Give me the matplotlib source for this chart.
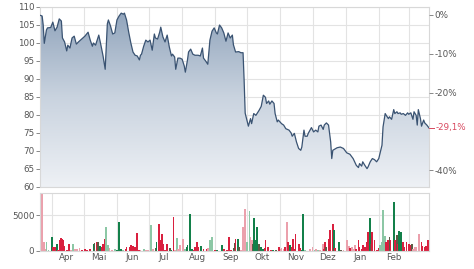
import matplotlib
matplotlib.use("Agg")
import matplotlib.pyplot as plt
import matplotlib.dates as mdates
import numpy as np
import pandas as pd
from matplotlib.colors import LinearSegmentedColormap

# ---------------- data ----------------
price_dates = [
    "2022-03-21", "2022-03-23", "2022-03-24", "2022-03-25", "2022-03-27", "2022-03-28", "2022-03-31",
    "2022-04-02", "2022-04-04", "2022-04-06", "2022-04-08", "2022-04-10", "2022-04-11", "2022-04-13",
    "2022-04-15", "2022-04-16", "2022-04-18", "2022-04-20", "2022-04-22", "2022-04-24", "2022-04-26",
    "2022-04-29", "2022-05-02", "2022-05-05", "2022-05-07", "2022-05-09", "2022-05-10", "2022-05-12",
    "2022-05-15", "2022-05-17", "2022-05-19", "2022-05-21", "2022-05-23", "2022-05-24", "2022-05-26",
    "2022-05-28", "2022-05-30", "2022-06-01", "2022-06-03", "2022-06-05", "2022-06-07", "2022-06-08",
    "2022-06-10", "2022-06-12", "2022-06-14", "2022-06-16", "2022-06-18", "2022-06-20", "2022-06-22",
    "2022-06-23", "2022-06-24", "2022-06-26", "2022-06-28", "2022-06-30", "2022-07-02", "2022-07-04",
    "2022-07-06", "2022-07-07", "2022-07-09", "2022-07-11", "2022-07-12", "2022-07-14", "2022-07-16",
    "2022-07-18", "2022-07-20", "2022-07-22", "2022-07-23", "2022-07-25", "2022-07-26", "2022-07-28",
    "2022-07-30", "2022-08-01", "2022-08-03", "2022-08-04", "2022-08-06", "2022-08-07", "2022-08-09",
    "2022-08-11", "2022-08-13", "2022-08-16", "2022-08-18", "2022-08-20", "2022-08-21", "2022-08-23",
    "2022-08-25", "2022-08-27", "2022-08-29", "2022-08-31", "2022-09-02", "2022-09-03", "2022-09-05",
    "2022-09-07", "2022-09-09", "2022-09-11", "2022-09-13", "2022-09-15", "2022-09-17", "2022-09-18",
    "2022-09-20", "2022-09-23", "2022-09-25", "2022-09-27", "2022-09-28", "2022-09-29", "2022-10-01",
    "2022-10-02", "2022-10-04", "2022-10-05", "2022-10-07", "2022-10-09", "2022-10-12", "2022-10-14",
    "2022-10-16", "2022-10-18", "2022-10-19", "2022-10-21", "2022-10-22", "2022-10-24", "2022-10-26",
    "2022-10-27", "2022-10-29", "2022-10-30", "2022-11-02", "2022-11-04", "2022-11-06", "2022-11-09",
    "2022-11-11", "2022-11-12", "2022-11-14", "2022-11-16", "2022-11-18", "2022-11-20", "2022-11-21",
    "2022-11-23", "2022-11-24", "2022-11-26", "2022-11-27", "2022-11-30", "2022-12-02", "2022-12-04",
    "2022-12-06", "2022-12-07", "2022-12-09", "2022-12-11", "2022-12-12", "2022-12-14", "2022-12-16",
    "2022-12-18", "2022-12-19", "2022-12-20", "2022-12-24", "2022-12-27", "2022-12-30", "2023-01-02",
    "2023-01-05", "2023-01-08", "2023-01-11", "2023-01-13", "2023-01-14", "2023-01-16", "2023-01-17",
    "2023-01-19", "2023-01-21", "2023-01-22", "2023-01-24", "2023-01-26", "2023-01-28", "2023-01-30",
    "2023-02-01", "2023-02-04", "2023-02-05", "2023-02-07", "2023-02-08", "2023-02-10", "2023-02-11",
    "2023-02-13", "2023-02-15", "2023-02-16", "2023-02-18", "2023-02-19", "2023-02-21", "2023-02-22",
    "2023-02-24", "2023-02-26", "2023-02-28", "2023-03-01", "2023-03-03", "2023-03-05", "2023-03-06",
    "2023-03-08", "2023-03-09", "2023-03-10", "2023-03-12", "2023-03-13", "2023-03-15", "2023-03-16",
    "2023-03-18", "2023-03-20",
]
price_values = [
    107.7, 107.5, 105.0, 99.9, 103.6, 104.2, 104.3,
    105.8, 103.4, 104.4, 106.7, 106.1, 101.4, 100.3,
    97.8, 99.4, 98.6, 101.4, 101.9, 99.7, 100.3,
    101.1, 101.9, 103.0, 100.8, 99.1, 100.0, 99.4,
    102.2, 99.4, 96.4, 92.7, 105.3, 106.4, 104.7,
    102.5, 102.8, 106.4, 107.5, 108.3, 108.0, 108.3,
    106.4, 103.0, 100.0, 97.5, 96.6, 96.4, 95.3,
    96.6, 96.9, 99.1, 100.8, 100.3, 100.8, 98.0,
    102.5, 101.4, 101.1, 103.0, 104.4, 101.7, 100.3,
    102.2, 98.9, 96.4, 96.9, 96.1, 92.7, 95.8,
    95.8, 95.5, 93.6, 91.9, 95.3, 97.5, 98.3,
    96.9, 96.6, 96.6, 96.4, 98.6, 95.8, 95.0,
    94.1, 100.8, 103.3, 104.2, 102.8, 102.5, 105.0,
    104.2, 102.8, 100.5, 102.8, 101.4, 102.2, 99.5,
    97.5, 97.6, 97.3, 97.3, 89.7, 80.5, 78.1,
    76.9, 79.0, 77.6, 80.4, 79.9, 81.3, 82.4,
    85.5, 84.9, 83.2, 83.9, 83.0, 83.9, 83.2,
    80.4, 78.1, 78.6, 77.6, 77.2, 76.2, 75.8,
    75.0, 74.1, 74.9, 72.5, 70.7, 70.2, 71.1,
    75.8, 74.1, 74.1, 74.9, 76.5, 75.3, 75.8,
    75.3, 76.9, 77.2, 76.0, 77.2, 77.8, 77.2,
    72.5, 67.9, 70.2, 70.9, 71.1, 70.7, 69.5,
    69.1, 67.9, 66.0, 65.4, 66.5, 65.8, 67.0,
    66.0, 65.1, 65.6, 67.0, 67.9, 67.6, 67.0,
    67.9, 71.6, 76.7, 80.4, 79.9, 79.0, 79.5,
    78.8, 81.5, 80.4, 80.9, 80.4, 80.6, 80.2,
    80.4, 79.9, 80.6, 80.2, 80.6, 78.8, 80.9,
    79.9, 77.2, 81.5, 79.0, 76.9, 78.6, 77.8,
    77.2, 76.4,
]

vol_dates = [
    "2022-03-22", "2022-03-23", "2022-03-25", "2022-03-26", "2022-03-27", "2022-03-29", "2022-04-01",
    "2022-04-02", "2022-04-04", "2022-04-06", "2022-04-07", "2022-04-09", "2022-04-10", "2022-04-11",
    "2022-04-12", "2022-04-13", "2022-04-15", "2022-04-17", "2022-04-19", "2022-04-21", "2022-04-23",
    "2022-04-25", "2022-04-27", "2022-04-29", "2022-05-02", "2022-05-04", "2022-05-07", "2022-05-10",
    "2022-05-11", "2022-05-13", "2022-05-14", "2022-05-16", "2022-05-18", "2022-05-19", "2022-05-20",
    "2022-05-21", "2022-05-22", "2022-05-24", "2022-05-25", "2022-05-27", "2022-05-30", "2022-06-01",
    "2022-06-03", "2022-06-05", "2022-06-07", "2022-06-09", "2022-06-10", "2022-06-13", "2022-06-14",
    "2022-06-16", "2022-06-18", "2022-06-20", "2022-06-22", "2022-06-23", "2022-06-26", "2022-06-28",
    "2022-06-30", "2022-07-03", "2022-07-05", "2022-07-07", "2022-07-08", "2022-07-10", "2022-07-11",
    "2022-07-13", "2022-07-14", "2022-07-16", "2022-07-18", "2022-07-21", "2022-07-22", "2022-07-24",
    "2022-07-25", "2022-07-27", "2022-07-28", "2022-07-30", "2022-08-02", "2022-08-04", "2022-08-05",
    "2022-08-06", "2022-08-08", "2022-08-10", "2022-08-12", "2022-08-13", "2022-08-15", "2022-08-16",
    "2022-08-19", "2022-08-21", "2022-08-24", "2022-08-25", "2022-08-27", "2022-08-29", "2022-09-01",
    "2022-09-03", "2022-09-07", "2022-09-09", "2022-09-12", "2022-09-14", "2022-09-16", "2022-09-18",
    "2022-09-19", "2022-09-20", "2022-09-22", "2022-09-23", "2022-09-25", "2022-09-27", "2022-09-29",
    "2022-10-01", "2022-10-03", "2022-10-04", "2022-10-05", "2022-10-06", "2022-10-07", "2022-10-09",
    "2022-10-10", "2022-10-12", "2022-10-14", "2022-10-16", "2022-10-17", "2022-10-18", "2022-10-20",
    "2022-10-23", "2022-10-25", "2022-10-28", "2022-10-31", "2022-11-01", "2022-11-02", "2022-11-04",
    "2022-11-05", "2022-11-07", "2022-11-08", "2022-11-10", "2022-11-12", "2022-11-13", "2022-11-14",
    "2022-11-15", "2022-11-18", "2022-11-19", "2022-11-21", "2022-11-22", "2022-11-24", "2022-11-29",
    "2022-12-01", "2022-12-03", "2022-12-04", "2022-12-06", "2022-12-08", "2022-12-11", "2022-12-12",
    "2022-12-13", "2022-12-14", "2022-12-16", "2022-12-17", "2022-12-20", "2022-12-21", "2022-12-22",
    "2022-12-26", "2022-12-28", "2022-12-30", "2023-01-02", "2023-01-04", "2023-01-05", "2023-01-07",
    "2023-01-08", "2023-01-10", "2023-01-11", "2023-01-13", "2023-01-14", "2023-01-16", "2023-01-17",
    "2023-01-19", "2023-01-21", "2023-01-22", "2023-01-24", "2023-01-25", "2023-01-26", "2023-01-28",
    "2023-01-30", "2023-02-01", "2023-02-02", "2023-02-04", "2023-02-05", "2023-02-07", "2023-02-08",
    "2023-02-10", "2023-02-11", "2023-02-12", "2023-02-15", "2023-02-16", "2023-02-18", "2023-02-19",
    "2023-02-20", "2023-02-22", "2023-02-24", "2023-02-25", "2023-02-27", "2023-03-01", "2023-03-02",
    "2023-03-04", "2023-03-05", "2023-03-07", "2023-03-08", "2023-03-11", "2023-03-13", "2023-03-14",
    "2023-03-16", "2023-03-17", "2023-03-19",
]
vol_values = [
    560, 8000, 1260, 300, 1260, 150, 1960,
    560, 600, 1030, 200, 1600, 1800, 1750,
    1500, 700, 150, 1000, 200, 1000, 250,
    300, 400, 100, 300, 150, 300, 1000,
    1100, 1200, 1200, 700, 500, 1000, 300,
    1750, 3400, 800, 400, 200, 300, 200,
    4060, 300, 150, 300, 500, 600, 800,
    700, 600, 2520, 200, 150, 300, 100,
    200, 3600, 300, 400, 1300, 3830, 1600,
    2400, 1000, 200, 1000, 400, 200, 4760,
    200, 1880, 300, 800, 1750, 300, 600,
    800, 5240, 300, 200, 600, 1300, 500,
    700, 350, 300, 400, 1500, 1900, 200,
    200, 800, 300, 200, 1900, 200, 400,
    1100, 1750, 1750, 500, 200, 3400, 5930,
    1200, 5560, 2000, 1600, 1000, 4670, 1500,
    3400, 1000, 500, 300, 400, 1500, 500,
    200, 150, 200, 500, 300, 400, 300,
    500, 4060, 1200, 800, 500, 1750, 300,
    2430, 1000, 400, 200, 5240, 200, 300,
    600, 200, 300, 150, 200, 1000, 300,
    1300, 500, 1750, 2900, 3830, 2900, 400,
    1300, 200, 200, 1500, 700, 400, 600,
    300, 800, 300, 1500, 600, 300, 900,
    500, 1300, 2700, 4630, 1000, 2700, 1600,
    200, 400, 900, 1300, 5700, 2100, 1300,
    1600, 2000, 1500, 6860, 1600, 2300, 1000,
    2800, 2700, 1300, 600, 1200, 1000, 900,
    1000, 300, 500, 600, 2400, 1300, 700,
    500, 700, 1600,
]
# r = down, g = up, p = down (light), l = up (light), d = mixed
vol_kind = [
    "l", "p", "p", "p", "l", "l", "g",
    "r", "r", "g", "r", "r", "r", "r",
    "r", "r", "r", "r", "p", "l", "p",
    "p", "p", "r", "r", "r", "r", "g",
    "d", "r", "d", "g", "r", "r", "r",
    "r", "l", "l", "p", "p", "l", "g",
    "g", "g", "l", "r", "r", "r", "r",
    "r", "r", "r", "r", "p", "l", "p",
    "p", "l", "p", "d", "g", "r", "r",
    "r", "r", "r", "r", "d", "g", "r",
    "p", "l", "p", "p", "p", "l", "g",
    "g", "g", "g", "r", "r", "r", "r",
    "g", "r", "r", "p", "l", "l", "r",
    "g", "g", "r", "r", "r", "r", "d",
    "d", "r", "g", "d", "p", "p", "p",
    "l", "l", "p", "p", "d", "g", "g",
    "g", "d", "g", "g", "r", "r", "r",
    "r", "g", "d", "r", "p", "p", "p",
    "r", "p", "r", "g", "r", "r", "r",
    "r", "r", "r", "g", "g", "l", "p",
    "p", "l", "p", "l", "p", "p", "r",
    "r", "d", "r", "r", "r", "g", "r",
    "g", "d", "p", "p", "p", "r", "p",
    "p", "p", "r", "r", "r", "r", "r",
    "r", "r", "r", "g", "d", "r", "r",
    "r", "r", "l", "l", "l", "l", "r",
    "r", "d", "r", "g", "r", "d", "r",
    "g", "g", "r", "r", "r", "r", "r",
    "d", "p", "p", "p", "p", "r", "r",
    "r", "r", "r",
]

price_ticks = [60, 65, 70, 75, 80, 85, 90, 95, 100, 105, 110]
pct_ticks = [0, -10, -20, -40]
vol_ticks = [0, 5000]
month_labels = ["Apr", "Mai", "Jun", "Jul", "Aug", "Sep", "Okt", "Nov", "Dez", "Jan", "Feb"]
month_label_dates = ["2022-04-15", "2022-05-15", "2022-06-15", "2022-07-15", "2022-08-15",
                     "2022-09-15", "2022-10-15", "2022-11-15", "2022-12-15", "2023-01-15",
                     "2023-02-15"]
month_start_dates = ["2022-04-01", "2022-05-01", "2022-06-01", "2022-07-01", "2022-08-01",
                     "2022-09-01", "2022-10-01", "2022-11-01", "2022-12-01", "2023-01-01",
                     "2023-02-01", "2023-03-01"]
base_price = 107.8
last_change_label = "-29,1%"

# ---------------- styling ----------------
kind_colors = {"r": "#d9203f", "g": "#13804a", "p": "#eba0ac", "l": "#8cc7a5", "d": "#5e5a44"}
text_col = "#555555"
grid_col = "#e3e3e3"
frame_col = "#d8d8d8"
fs = 6.3

W, H = 474, 269
fig = plt.figure(figsize=(W / 100, H / 100), dpi=100)
fig.patch.set_facecolor("white")

x_left, x_right = 40, 429
ax = fig.add_axes([x_left / W, 1 - 187 / H, (x_right - x_left) / W, 180 / H])
axv = fig.add_axes([x_left / W, 1 - 251 / H, (x_right - x_left) / W, 58 / H])

pdates = mdates.date2num(pd.to_datetime(price_dates))
pvals = np.array(price_values)
vdates = mdates.date2num(pd.to_datetime(vol_dates))
xmin = mdates.date2num(pd.Timestamp("2022-03-21"))
xmax = mdates.date2num(pd.Timestamp("2023-03-20"))

ymin, ymax = 60, 110

# gradient fill under line
poly = ax.fill_between(pdates, pvals, ymin, color="none", lw=0)
cmap = LinearSegmentedColormap.from_list("g", ["#eef1f5", "#c9d3df", "#8ea2ba"])
grad = np.linspace(0, 1, 256).reshape(-1, 1)
im = ax.imshow(grad, cmap=cmap, origin="lower", aspect="auto",
               extent=[xmin, xmax, ymin, ymax], zorder=2)
path = poly.get_paths()[0]
im.set_clip_path(path, transform=ax.transData)
ax.plot(pdates, pvals, color="#3a5372", lw=0.9, zorder=3)

ax.set_xlim(xmin, xmax)
ax.set_ylim(ymin, ymax)
ax.set_yticks(price_ticks)
ax.set_yticklabels([str(t) for t in price_ticks])

ms = mdates.date2num(pd.to_datetime(month_start_dates))
for a in (ax, axv):
    a.set_xticks(ms)
    a.set_xticklabels([])
    a.tick_params(axis="x", length=0)
    for s in a.spines.values():
        s.set_color(frame_col)
        s.set_linewidth(0.8)
    a.grid(True, color=grid_col, lw=0.8, zorder=0)
    a.set_axisbelow(True)
    a.tick_params(axis="y", colors="#888888", labelcolor=text_col, labelsize=fs,
                  length=3, width=0.7, pad=1)

# right percentage axis
ax2 = ax.twinx()
ax2.set_ylim((ymin / base_price - 1) * 100, (ymax / base_price - 1) * 100)
ax2.set_yticks(pct_ticks)
ax2.set_yticklabels([f"{t}%" for t in pct_ticks])
ax2.tick_params(axis="y", colors="#888888", labelcolor=text_col, labelsize=fs,
                length=3, width=0.7, pad=1)
for s in ax2.spines.values():
    s.set_visible(False)
last_pct = (pvals[-1] / base_price - 1) * 100
ax2.annotate(last_change_label, xy=(1, last_pct), xycoords=("axes fraction", "data"),
             xytext=(5, 0), textcoords="offset points", va="center", ha="left",
             color="#d8485e", fontsize=fs)
ax2.plot([1.0, 1.012], [last_pct, last_pct], transform=ax2.get_yaxis_transform(),
         color="#d8485e", lw=0.7, clip_on=False)

# volume bars
colors = [kind_colors[k] for k in vol_kind]
axv.bar(vdates, vol_values, width=1.7, color=colors, zorder=2, lw=0)
axv.set_xlim(xmin, xmax)
axv.set_ylim(0, 8120)
axv.set_yticks(vol_ticks)
axv.set_yticklabels([str(t) for t in vol_ticks])
mld = mdates.date2num(pd.to_datetime(month_label_dates))
for d, lab in zip(mld, month_labels):
    axv.text(d, -0.04, lab, transform=axv.get_xaxis_transform(), ha="center", va="top",
             fontsize=fs, color=text_col)

fig.savefig("out.png", dpi=100, facecolor="white")
